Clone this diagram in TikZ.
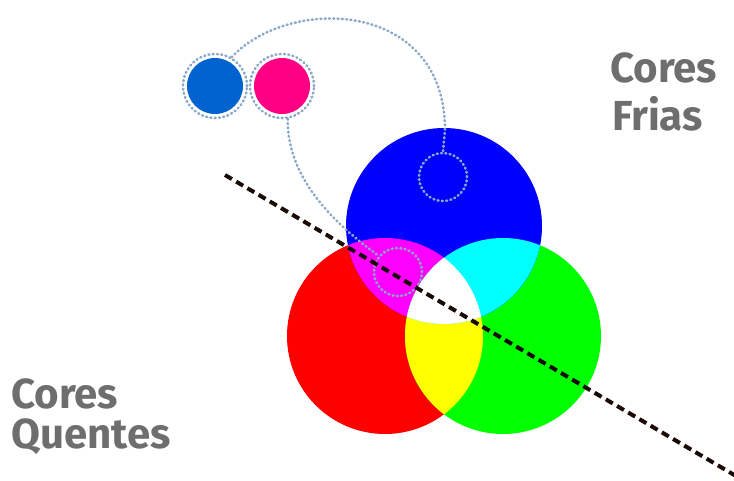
\documentclass[tikz,border=0pt]{standalone}
\usepackage{fontspec}
\setmainfont{Fira Sans}
\begin{document}
\begin{tikzpicture}[x=1pt,y=-1pt,
  dotline/.style={draw=dotc, line width=2.6pt, line cap=round, dash pattern=on 0.9pt off 3.4pt},
  ring/.style={circle, dotline, minimum size=64pt, inner sep=0pt},
  disc/.style={circle, minimum size=56pt, inner sep=0pt},
  dotcirc/.style={circle, dotline, minimum size=48pt, inner sep=0pt},
  label/.style={anchor=base west, text=txtc, font=\bfseries\fontsize{42}{42}\selectfont, inner sep=0pt}]
\definecolor{dotc}{HTML}{8AA8C8}
\definecolor{txtc}{HTML}{6E6E6E}
\definecolor{flblue}{HTML}{0063D0}
\definecolor{flpink}{HTML}{FF0084}
\definecolor{dashc}{HTML}{1A0A05}
\definecolor{cR}{RGB}{255,0,0}
\definecolor{cG}{RGB}{0,255,0}
\definecolor{cB}{RGB}{0,0,255}
\definecolor{cM}{RGB}{255,0,255}
\definecolor{cC}{RGB}{0,255,255}
\definecolor{cY}{RGB}{255,255,0}
\definecolor{cW}{RGB}{255,255,255}
\useasboundingbox (0,0) rectangle (734,480);
% big circles
\def\rB{(444,226) circle (98)}
\def\rR{(385,336) circle (98)}
\def\rG{(503,336) circle (98)}
\fill[cR] \rR;
\fill[cG] \rG;
\fill[cB] \rB;
\begin{scope}\clip \rR; \fill[cM] \rB; \fill[cY] \rG; \end{scope}
\begin{scope}\clip \rG; \fill[cC] \rB; \end{scope}
\begin{scope}\clip \rR; \clip \rG; \fill[cW] \rB; \end{scope}
% small discs
\node[disc, fill=flblue] (fb) at (215,86) {};
\node[disc, fill=flpink] (fp) at (282,86) {};
\node[ring] (ringB) at (215,86) {};
\node[ring] (ringM) at (282,86) {};
\node[dotcirc] (dc1) at (443,177) {};
\node[dotcirc] (dc2) at (398,272) {};
\draw[dotline] (ringB.60) .. controls (290,-5) and (445,0) .. (445,130) -- (dc1.north);
\draw[dotline] (ringM.-80) .. controls (287,165) and (315,210) .. (dc2.140);
% dashed divider
\coordinate (d1) at (225,175);
\coordinate (d2) at (736,476);
\draw[dashc, line width=4pt, dash pattern=on 8pt off 5pt] (d1) -- (d2);
% labels
\node[label] (cf1) at (610,82) {Cores};
\node[label] (cf2) at (612,130) {Frias};
\node[label] (cq1) at (11,408) {Cores};
\node[label] (cq2) at (11,448) {Quentes};
\end{tikzpicture}
\end{document}
